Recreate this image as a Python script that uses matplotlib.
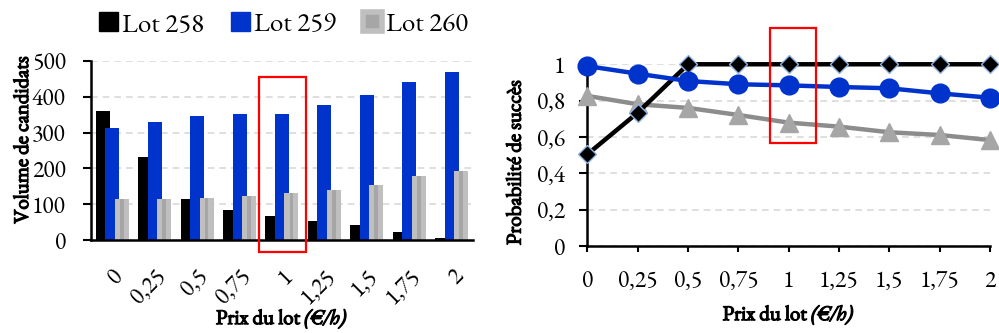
import numpy as np
import matplotlib
matplotlib.use("Agg")
import matplotlib.pyplot as plt
import matplotlib.patheffects as pe
from matplotlib.patches import Rectangle, Patch
from matplotlib.transforms import ScaledTranslation

plt.rcParams["font.family"] = ["EB Garamond", "DejaVu Serif"]
plt.rcParams["mathtext.fontset"] = "custom"
plt.rcParams["mathtext.bfit"] = "EB Garamond:italic:bold"

# --- data ---
prices = [0, 0.25, 0.5, 0.75, 1, 1.25, 1.5, 1.75, 2]
price_labels = ["0", "0,25", "0,5", "0,75", "1", "1,25", "1,5", "1,75", "2"]
series_names = ["Lot 258", "Lot 259", "Lot 260"]

vol_258 = [360, 232, 116, 85, 68, 54, 42, 23, 7]
vol_259 = [314, 330, 346, 353, 353, 377, 404, 442, 468]
vol_260 = [114, 114, 117, 123, 132, 140, 155, 178, 192]

prob_258 = [0.505, 0.734, 1, 1, 1, 1, 1, 1, 1]
prob_259 = [0.99, 0.948, 0.908, 0.89, 0.884, 0.875, 0.868, 0.84, 0.816]
prob_260 = [0.826, 0.78, 0.76, 0.721, 0.679, 0.657, 0.626, 0.611, 0.583]

highlight = 4  # price 1 is boxed in red

BLACK = "#000000"
BLUE = "#0033CC"
GRAY_L = "#BFBFBF"
GRAY_D = "#A6A6A6"
GRID = "#D9D9D9"

# garamond here has no bold face -> fake it with a thin stroke
BOLD = [pe.Stroke(linewidth=0.9, foreground="black"), pe.Normal()]
LAB = dict(fontsize=15, path_effects=BOLD)
XLAB = r"Prix du lot $\mathbfit{(€/h)}$"

fig = plt.figure(figsize=(9.99, 3.33), dpi=100)

# ---------- left: bar chart ----------
ax1 = fig.add_axes([0.091, 0.279, 0.3825, 0.538])
x = np.arange(len(prices))
w, off = 0.33, 0.224
ax1.bar(x - off, vol_258, w, color=BLACK, zorder=2)
ax1.bar(x, vol_259, w, color=BLUE, zorder=2)
ax1.bar(x + off, vol_260, w, color=GRAY_L, zorder=2)
ax1.bar(x + off, vol_260, 0.09, color=GRAY_D, zorder=2)

ax1.set_xlim(-0.5, 8.5)
ax1.set_ylim(0, 500)
ax1.set_yticks(range(0, 501, 100))
ax1.yaxis.grid(True, color=GRID, linestyle=(0, (4, 3)), linewidth=1.2, zorder=0)
ax1.set_axisbelow(True)
ax1.set_xticks(x)
ax1.set_xticklabels(price_labels, rotation=45, ha="right", va="top",
                    rotation_mode="anchor")
shift = ScaledTranslation(-4 / 100, 0, fig.dpi_scale_trans)
for lbl in ax1.get_xticklabels():
    lbl.set_transform(lbl.get_transform() + shift)
ax1.tick_params(axis="x", length=0, pad=18, labelsize=17)
ax1.tick_params(axis="y", direction="out", length=6, width=1.5, pad=12, labelsize=17)
for s in ["top", "right"]:
    ax1.spines[s].set_visible(False)
for s in ["left", "bottom"]:
    ax1.spines[s].set_linewidth(1.8)
ax1.set_ylabel("Volume de candidats", **LAB)
ax1.yaxis.set_label_coords(-0.149, 0.56)
ax1.set_xlabel(XLAB, labelpad=-3, **LAB)
ax1.add_patch(Rectangle((highlight - 0.53, -34), 1.1, 490, fill=False,
                        edgecolor="red", linewidth=1.6, clip_on=False, zorder=5))

handles = [Patch(facecolor=BLACK, edgecolor=BLACK),
           Patch(facecolor=BLUE, edgecolor=BLUE),
           Patch(facecolor=GRAY_D, edgecolor=GRAY_L, linewidth=4)]
fig.legend(handles, series_names, loc="center", bbox_to_anchor=(0.284, 0.922),
           ncol=3, frameon=False, fontsize=19.5, handlelength=0.7,
           handleheight=0.7, handletextpad=0.15, columnspacing=1.0)

# ---------- right: line chart ----------
ax2 = fig.add_axes([0.588, 0.261, 0.403, 0.546])
ax2.plot(prices, prob_260, color="#8C8C8C", linewidth=3.2, marker="^",
         markersize=13.5, markerfacecolor=GRAY_D, markeredgecolor=GRAY_D,
         clip_on=False, zorder=3)
ax2.plot(prices, prob_258, color=BLACK, linewidth=3.2, marker="D",
         markersize=9.5, markerfacecolor=BLACK, markeredgecolor="#8DB4E2",
         markeredgewidth=1, clip_on=False, zorder=4)
ax2.plot(prices, prob_259, color=BLUE, linewidth=3.2, marker="o",
         markersize=13.5, markerfacecolor=BLUE, markeredgecolor=BLUE,
         clip_on=False, zorder=5)

ax2.set_xlim(0, 2)
ax2.set_ylim(0, 1)
ax2.set_yticks([0, 0.2, 0.4, 0.6, 0.8, 1])
ax2.set_yticklabels(["0", "0,2", "0,4", "0,6", "0,8", "1"])
ax2.set_xticks(prices)
ax2.set_xticklabels(price_labels)
ax2.yaxis.grid(True, color=GRID, linestyle=(0, (4, 3)), linewidth=1.2, zorder=0)
ax2.set_axisbelow(True)
ax2.tick_params(axis="x", direction="out", length=4, width=1.5, pad=13, labelsize=17)
ax2.tick_params(axis="y", direction="out", length=6, width=1.5, pad=10, labelsize=17)
for s in ["top", "right"]:
    ax2.spines[s].set_visible(False)
for s in ["left", "bottom"]:
    ax2.spines[s].set_linewidth(1.8)
ax2.set_ylabel("Probabilité de succès", **LAB)
ax2.yaxis.set_label_coords(-0.151, 0.46)
ax2.set_xlabel(XLAB, labelpad=6, **LAB)
ax2.add_patch(Rectangle((prices[highlight] - 0.095, 0.569), 0.232, 0.629,
                        fill=False, edgecolor="red", linewidth=1.6,
                        clip_on=False, zorder=6))

fig.savefig("out.png", dpi=100)
